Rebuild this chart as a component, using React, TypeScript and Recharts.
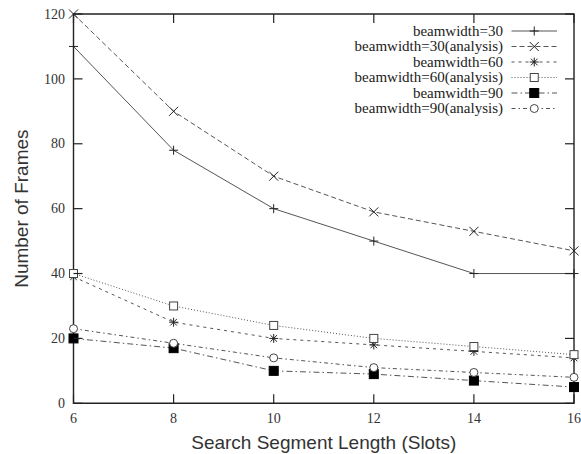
import React from 'react';
import { LineChart, Line, XAxis, YAxis, ReferenceArea, Legend } from 'recharts';

// segment length (slots) on x
const slots = [6, 8, 10, 12, 14, 16];
const yTicks = [0, 20, 40, 60, 80, 100, 120];

const bw30 = [110, 78, 60, 50, 40, 40];
const bw30a = [120, 90, 70, 59, 53, 47];
const bw60 = [39, 25, 20, 18, 16, 14];
const bw60a = [40, 30, 24, 20, 17.5, 15];
const bw90 = [20, 17, 10, 9, 7, 5];
const bw90a = [23, 18.5, 14, 11, 9.5, 8];

const seriesNames = [
  'beamwidth=30',
  'beamwidth=30(analysis)',
  'beamwidth=60',
  'beamwidth=60(analysis)',
  'beamwidth=90',
  'beamwidth=90(analysis)',
];

const data = slots.map((s, i) => ({
  slot: s,
  bw30: bw30[i],
  bw30a: bw30a[i],
  bw60: bw60[i],
  bw60a: bw60a[i],
  bw90: bw90[i],
  bw90a: bw90a[i],
}));

type MarkerKind = 'plus' | 'cross' | 'star' | 'square' | 'fsquare' | 'circle';

const series: { key: string; name: string; dash?: string; marker: MarkerKind }[] = [
  { key: 'bw30', name: seriesNames[0], marker: 'plus' },
  { key: 'bw30a', name: seriesNames[1], dash: '5 3', marker: 'cross' },
  { key: 'bw60', name: seriesNames[2], dash: '3 4', marker: 'star' },
  { key: 'bw60a', name: seriesNames[3], dash: '1 2', marker: 'square' },
  { key: 'bw90', name: seriesNames[4], dash: '6 3 1.5 3', marker: 'fsquare' },
  { key: 'bw90a', name: seriesNames[5], dash: '4 3 1.5 3', marker: 'circle' },
];

const W = 581;
const H = 454;
const PL = 73.5;
const PR = 574;
const PT = 14;
const PB = 403.3;
const LINE = '#555';
const INK = '#222';
const SERIF = '"Liberation Serif", "DejaVu Serif", serif';
const SANS = '"Liberation Sans", Arial, sans-serif';

function Marker({ kind, cx, cy }: { kind: MarkerKind; cx: number; cy: number }) {
  const s = 4.5;
  switch (kind) {
    case 'plus':
      return <path d={`M${cx - s},${cy}H${cx + s}M${cx},${cy - s}V${cy + s}`} stroke={INK} strokeWidth={1} fill="none" />;
    case 'cross':
      return <path d={`M${cx - s},${cy - s}L${cx + s},${cy + s}M${cx - s},${cy + s}L${cx + s},${cy - s}`} stroke={INK} strokeWidth={1} fill="none" />;
    case 'star': {
      const d = 3.3;
      return (
        <path
          d={`M${cx - s},${cy}H${cx + s}M${cx},${cy - s}V${cy + s}M${cx - d},${cy - d}L${cx + d},${cy + d}M${cx - d},${cy + d}L${cx + d},${cy - d}`}
          stroke={INK}
          strokeWidth={1}
          fill="none"
        />
      );
    }
    case 'square':
      return <rect x={cx - 4} y={cy - 4} width={8} height={8} fill="#fff" stroke="#444" strokeWidth={1} />;
    case 'fsquare':
      return <rect x={cx - 4.5} y={cy - 4.5} width={9} height={9} fill="#000" stroke="#000" />;
    default:
      return <circle cx={cx} cy={cy} r={4} fill="#fff" stroke="#444" strokeWidth={1} />;
  }
}

// gnuplot style: labels outside, ticks pointing in, mirrored on the other side
function YTick(props: any) {
  const { y, payload } = props;
  return (
    <g>
      <text x={PL - 8.5} y={y} dy="0.33em" textAnchor="end" fontFamily={SERIF} fontSize={14} fill="#333">
        {payload.value}
      </text>
      <line x1={PL} x2={PL + 9} y1={y} y2={y} stroke={INK} strokeWidth={1.2} />
      <line x1={PR - 9} x2={PR} y1={y} y2={y} stroke={INK} strokeWidth={1.2} />
    </g>
  );
}

function XTick(props: any) {
  const { x, payload } = props;
  return (
    <g>
      <text x={x} y={PB + 19.5} textAnchor="middle" fontFamily={SERIF} fontSize={14} fill="#333">
        {payload.value}
      </text>
      <line x1={x} x2={x} y1={PB - 9} y2={PB} stroke={INK} strokeWidth={1.2} />
      <line x1={x} x2={x} y1={PT} y2={PT + 9} stroke={INK} strokeWidth={1.2} />
    </g>
  );
}

function LegendBox() {
  const textRight = 173;
  const x1 = 181.5;
  const x2 = 227;
  return (
    <svg width={240} height={100} style={{ display: 'block', overflow: 'visible' }}>
      {series.map((s, i) => {
        const y = 9 + i * 15.5;
        return (
          <g key={s.key}>
            <text x={textRight} y={y} dy="0.33em" textAnchor="end" fontFamily={SERIF} fontSize={15} fill={INK}>
              {s.name}
            </text>
            <line x1={x1} x2={x2} y1={y} y2={y} stroke={LINE} strokeWidth={1} strokeDasharray={s.dash} />
            <Marker kind={s.marker} cx={(x1 + x2) / 2} cy={y} />
          </g>
        );
      })}
    </svg>
  );
}

export default function App() {
  return (
    <div style={{ position: 'absolute', left: 0, top: 0, width: W, height: H, background: '#fff' }}>
      <LineChart
        width={W}
        height={H}
        data={data}
        margin={{ top: PT, right: W - PR, bottom: H - PB - 30, left: PL - 60 }}
      >
        <XAxis
          dataKey="slot"
          type="number"
          domain={[6, 16]}
          ticks={slots}
          height={30}
          axisLine={false}
          tickLine={false}
          tickSize={0}
          tick={<XTick />}
          interval={0}
          label={{
            content: () => (
              <text x={(PL + PR) / 2} y={448.5} textAnchor="middle" fontFamily={SANS} fontSize={19} fill="#333">
                Search Segment Length (Slots)
              </text>
            ),
          }}
        />
        <YAxis
          type="number"
          domain={[0, 120]}
          ticks={yTicks}
          width={60}
          axisLine={false}
          tickLine={false}
          tickSize={0}
          tick={<YTick />}
          interval={0}
          label={{
            content: () => (
              <text
                x={28}
                y={(PT + PB) / 2}
                transform={`rotate(-90 28 ${(PT + PB) / 2})`}
                textAnchor="middle"
                fontFamily={SANS}
                fontSize={19}
                fill="#333"
              >
                Number of Frames
              </text>
            ),
          }}
        />
        {series.map((s) => (
          <Line
            key={s.key}
            dataKey={s.key}
            name={s.name}
            type="linear"
            stroke={LINE}
            strokeWidth={1}
            strokeDasharray={s.dash}
            isAnimationActive={false}
            dot={(p: any) => <Marker key={`${s.key}-${p.index}`} kind={s.marker} cx={p.cx} cy={p.cy} />}
            activeDot={false}
          />
        ))}
        <ReferenceArea x1={6} x2={16} y1={0} y2={120} fill="none" stroke={INK} strokeWidth={1.4} ifOverflow="visible" />
        <Legend
          layout="vertical"
          align="center"
          verticalAlign="middle"
          wrapperStyle={{ top: 22, left: 330, width: 240 }}
          content={() => <LegendBox />}
        />
      </LineChart>
    </div>
  );
}
